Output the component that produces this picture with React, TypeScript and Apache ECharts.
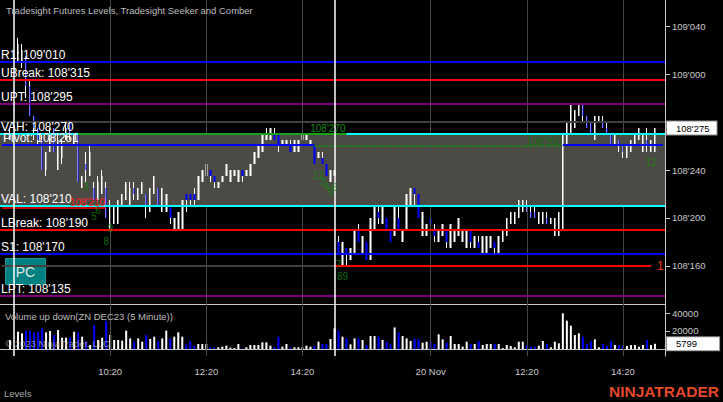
import React, { useEffect, useRef } from 'react';
import * as echarts from 'echarts';

const FONT = '"Liberation Sans", Arial, sans-serif';
const BASE = 108; // prices below are stored in 32nds above 108 (e.g. 27.5 = 108'275)

// ---- 5-minute bars, one entry per time slot on the axis ----
const opens: (number | null)[] = [
  null, null, 26.5, null, 33, 33, 33.5, 31, 28.5, 27.5,
  26.5, 24, 25.5, 27.5, 24, 25, 26.5, 28, 26, 27,
  22.5, 24.5, 23.5, 22.5, 21.5, 22, 22.5, 19.5, 19.5, 19.5,
  21, 21.5, 21, 22.5, 21.5, 22, 22, 20.5, 22, 22.5,
  20.5, 20.5, 21, 19, 19, 19, 22, 22, 22, 21.5,
  23, 23.5, 24, 23.5, 22.5, 23, 23.5, 23, 23.5, 23,
  24, 23.5, 23.5, 24.5, 25, 25.5, 26.5, 26.5, 27, 27,
  26, 26, 26, 25.5, 25.5, 26.5, 26.5, 26, 26, 25,
  25, 24.5, 23, 23.5, 18, 16, 17.5, 16.5, 17, 19,
  17, 18, 16.5, 19, 20.5, 19.5, 20, 19, 18.5, 20,
  18, 19, 21, 22.5, 22, 18.5, 18.5, 20, 19, 18,
  18.5, 19, 17.5, 18, 18.5, 18, 17.5, 19, 17.5, 18,
  17, 17, 17.5, 18, 17, 18, 18.5, 19.5, 19.5, 20,
  20.5, 21, 20.5, 20.5, 19.5, 19.5, 20, 19.5, 18.5, 18.5,
  19, 26, 27, 27.5, 28.5, 29.5, 28.5, 28, 26.5, 28,
  28, 27.5, 27, 26, 26.5, 26, 25, 25.5, 26, 26.5,
  25.5, 26.5, 25.5, 25.5,
];
const highs: (number | null)[] = [
  null, null, 27.5, null, 35, 34.5, 33.5, 31.5, 28.5, 27.5,
  27, 25.5, 27.5, 27.5, 27, 26.5, 28, 28, 27, 27,
  23.5, 25.5, 26, 23, 23.5, 24, 23, 21.5, 21, 21.5,
  22, 23, 23, 23, 22.5, 23, 22, 22.5, 23.5, 22.5,
  22.5, 22, 21, 20, 20.5, 21.5, 22, 22, 22.5, 23.5,
  24, 24.5, 24, 23.5, 23, 23.5, 24.5, 24, 24, 24,
  24, 24, 24.5, 25.5, 26, 27, 27.5, 27.5, 27.5, 27,
  26.5, 26.5, 26.5, 26.5, 26.5, 27, 27, 26.5, 26, 25.5,
  25.5, 24.5, 24, 24, 18.5, 18, 17.5, 17.5, 19, 19.5,
  18.5, 18, 20, 21, 21, 21, 20, 19, 21, 21,
  19, 22, 22.5, 22.5, 22, 20.5, 19.5, 20, 19.5, 19,
  19.5, 19, 19.5, 19, 20, 19, 19, 19, 18.5, 18.5,
  18.5, 18.5, 18.5, 18, 18.5, 19, 20, 20.5, 20.5, 21.5,
  21.5, 21.5, 21, 21, 20.5, 20.5, 20.5, 20, 20, 20.5,
  27, 28, 29.5, 29, 29.5, 29.5, 28.5, 28, 28.5, 28.5,
  28.5, 28, 27, 27, 26.5, 26, 26, 26.5, 27, 27.5,
  27, 27.5, 26.5, 27.5,
];
const lows: (number | null)[] = [
  null, null, 26.5, null, 33, 32.5, 30, 28.5, 26.5, 26,
  24, 23.5, 25.5, 25.5, 24, 24.5, 26.5, 26.5, 26, 23,
  22.5, 23, 23.5, 21.5, 21.5, 22, 20, 19, 19.5, 19.5,
  21, 21.5, 21, 21.5, 21.5, 22, 20, 20.5, 22, 21,
  20.5, 20.5, 19.5, 19, 19, 19, 20.5, 21, 21, 21.5,
  23, 23.5, 23, 22.5, 22.5, 23, 23.5, 23, 23.5, 23,
  23, 23.5, 23.5, 24.5, 25, 25.5, 26.5, 26.5, 26.5, 25.5,
  26, 26, 25.5, 25.5, 25.5, 26.5, 26.5, 26, 24.5, 25,
  24.5, 23.5, 23, 23.5, 17, 16, 16, 16.5, 17, 18,
  17, 16.5, 16.5, 19, 19.5, 19.5, 19, 18, 18.5, 19,
  18, 19, 21, 21, 20, 18.5, 18.5, 19, 18, 18,
  18.5, 17.5, 17.5, 18, 18.5, 18, 17.5, 17.5, 17.5, 17.5,
  17, 17, 17.5, 17, 17, 18, 18.5, 19.5, 19.5, 20,
  20.5, 20.5, 20, 20, 19.5, 19.5, 19.5, 19.5, 18.5, 18.5,
  19, 26, 27, 27.5, 28.5, 28, 27.5, 27, 26.5, 28,
  27.5, 27, 26, 26, 25.5, 25, 25, 25.5, 26, 26.5,
  25.5, 25.5, 25.5, 25.5,
];
const closes: (number | null)[] = [
  null, null, 27, null, 34.5, 34, 31, 28.5, 27.5, 26.5,
  24, 25.5, 27, 25.5, 26.5, 26, 27.5, 27, 27, 23,
  23.5, 24, 25.5, 21.5, 23, 23.5, 20, 21, 21, 21.5,
  22, 23, 22.5, 22, 22.5, 23, 21, 22.5, 23.5, 21,
  22.5, 22, 20, 20, 20.5, 21.5, 21.5, 21.5, 21.5, 23.5,
  24, 24.5, 23.5, 23, 23, 23.5, 24.5, 24, 24, 24,
  23.5, 24, 24.5, 25.5, 26, 27, 27, 27.5, 26.5, 26,
  26.5, 26.5, 25.5, 26.5, 26.5, 27, 27, 26.5, 24.5, 25.5,
  24.5, 23.5, 24, 24, 17, 18, 17, 17.5, 19, 18,
  18.5, 16.5, 20, 21, 20, 21, 19, 18, 21, 19,
  19, 22, 22.5, 22, 20, 20.5, 19.5, 19.5, 18.5, 19,
  19.5, 18, 19.5, 19, 20, 19, 19, 18, 18.5, 17.5,
  18.5, 18.5, 18.5, 17.5, 18.5, 19, 20, 20.5, 20.5, 21.5,
  21.5, 20.5, 20, 20, 20.5, 20.5, 19.5, 20, 20, 20.5,
  27, 28, 29.5, 29, 29.5, 28.5, 27.5, 27, 28.5, 28.5,
  27.5, 27, 26, 27, 26, 25.5, 26, 26.5, 27, 27.5,
  27, 26, 26.5, 27.5,
];
const volumes: (number | null)[] = [
  null, null, 10000, null, 19200, 17400, 20400, 20400, 18100, 19200,
  22900, 18500, 20000, 15500, 21100, 12600, 12600, 12600, 19200, 18500,
  13700, 8100, 4400, 26600, 10000, 12600, 31000, 15500, 10000, 10000,
  9300, 20400, 11800, 8100, 11800, 8100, 15500, 11100, 13700, 8900,
  11800, 20400, 11800, 13700, 18500, 13700, 5200, 8900, 3300, 5600,
  5600, 5600, 1900, 1500, 1900, 2600, 3700, 1500, 1000, 5600,
  700, 1900, 4400, 4400, 4400, 7400, 7400, 3700, 1900, 13700,
  2600, 5600, 1500, 1900, 1900, 1900, 3700, 2600, 3300, 8100,
  5600, 5600, 11100, 22900, 20400, 13700, 11800, 5200, 11800, 11800,
  10000, 4400, 14400, 14400, 13700, 10000, 8100, 5200, 24000, 18500,
  14400, 11800, 8900, 11100, 11100, 7000, 8100, 8100, 5600, 16300,
  10700, 7000, 14400, 5600, 5600, 2600, 8100, 5600, 5600, 8900,
  4400, 5600, 5600, 5600, 5600, 1000, 4400, 3300, 1900, 8100,
  8100, 4400, 2600, 2600, 3700, 8900, 5600, 1900, 8100, 6300,
  39600, 31500, 25900, 15500, 17400, 13700, 5600, 8900, 10700, 1900,
  5600, 3300, 8900, 4400, 4400, 3300, 3300, 4400, 4400, 2600,
  4400, 10000, 4400, 5799,
];

// ---- time axis ----
const N_SLOTS = 166;
const tickSlots = [27, 51, 75, 107, 131, 155];
const tickLabels = ['10:20', '12:20', '14:20', '20 Nov', '12:20', '14:20'];
const sessionBreakSlots = [3, 83];

// ---- levels (32nds above 108) ----
const levelNames = ['R1', 'UBreak', 'UPT', 'VAH', 'Pivot', 'VAL', 'LBreak', 'S1', 'LPT'];
const levelValues = [33, 31.5, 29.5, 27, 26.1, 21, 19, 17, 13.5];
const levelColors = ['#0000ff', '#ff0000', '#800080', '#00ffff', '#0000ff', '#00ffff', '#ff0000', '#0000ff', '#800080'];
const valueArea = [27, 21];
const priorLevels = [28, 16];

// ---- Seeker / Comber counts ----
const countSlots = [21, 23, 24, 27, 26, 79, 80, 81, 82, 83, 84, 85, 162];
const countValues = [22.6, 20.1, 20.6, 19.1, 18, 23.5, 23, 22.6, 22.1, 22.5, 16.1, 15.1, 24.6];
const countTexts = ['3', '5', '6', '9', '8', '12', '3', '4', '5', '6', '7', '89', '12'];

const priceTicks = [16, 20, 24, 28, 32, 36];
const priceTickLabels = [16, 20, 24, 32, 36]; // 108'280 sits under the last-price marker
const volumeTicks = [20000, 40000];

const fmt32 = (v: number) => {
  const whole = Math.floor(v / 32);
  const frac = v - whole * 32;
  return `${BASE + whole}'${String(Math.round(frac * 10)).padStart(3, '0')}`;
};

const slotLabel = (k: number) => {
  const day = k <= 3 ? '16 Nov' : k <= 83 ? '17 Nov' : '20 Nov';
  const mins = k <= 3 ? 900 - (3 - k) * 5 : k <= 83 ? 500 + (k - 3) * 5 : 500 + (k - 83) * 5;
  const hh = String(Math.floor(mins / 60)).padStart(2, '0');
  const mm = String(mins % 60).padStart(2, '0');
  return `${day} ${hh}:${mm}`;
};

export default function App() {
  const ref = useRef<HTMLDivElement>(null);
  useEffect(() => {
    const chart = echarts.init(ref.current!, null, { renderer: 'svg' });
    const categories = Array.from({ length: N_SLOTS }, (_, k) => slotLabel(k));
    const at = (arr: (number | null)[], k: number) => (k < arr.length ? arr[k] : null);
    const wickData = categories.map((_, k) => {
      const o = at(opens, k);
      if (o == null) return ['-', '-', '-', '-'];
      return [o, at(closes, k), at(lows, k), at(highs, k)];
    });
    const bodyData = categories.map((_, k) => {
      const o = at(opens, k);
      const c = at(closes, k);
      if (o == null || c == null) return ['-', '-', '-', '-'];
      return [o, c, Math.min(o, c), Math.max(o, c)];
    });
    const volData = categories.map((_, k) => {
      const v = at(volumes, k);
      if (v == null) return '-';
      const up = (at(closes, k) as number) >= (at(opens, k) as number);
      return { value: v, itemStyle: { color: up ? '#ffffff' : '#0000ff' } };
    });
    const last = opens.length - 1;
    const isTick = (i: number) => tickSlots.includes(i);

    const lbl = (text: string, extra: any = {}) => ({
      show: true, formatter: text, fontFamily: FONT, ...extra,
    });
    const noLabel = { show: false };
    const hiddenLine = { color: 'rgba(0,0,0,0)', width: 0 };

    const levelLines: any[] = [];
    levelNames.forEach((name, i) => {
      const v = levelValues[i];
      const label = lbl(`${name}: ${fmt32(v)}`, { position: 'insideStartTop', color: '#ffffff', fontSize: 12, distance: [1, 1] });
      const lineStyle = { color: levelColors[i], width: 2, type: 'solid' };
      if (name === 'Pivot') {
        levelLines.push([{ coord: [0, v], label, lineStyle }, { coord: [78, v], label, lineStyle }]);
        levelLines.push([{ coord: [140, v], label: noLabel, lineStyle }, { coord: [N_SLOTS - 1, v], label: noLabel, lineStyle }]);
      } else {
        levelLines.push({ yAxis: v, label, lineStyle });
      }
    });

    const gridLinesPrice = tickSlots.map((k) => ({ xAxis: k, label: noLabel, lineStyle: { color: '#484848', width: 1, type: 'solid' } }));
    const breakLines = sessionBreakSlots.map((k) => ({ xAxis: k, label: noLabel, lineStyle: { color: '#ffffff', width: 1.5, type: 'solid' } }));
    const gray = { color: '#404040', width: 2, type: 'solid' };
    const oneLabel = lbl('1', { position: 'end', color: '#e8401c', fontSize: 12, distance: 6 });

    const priceMarks: any[] = [
      ...gridLinesPrice,
      { yAxis: priorLevels[0], label: noLabel, lineStyle: gray },
      [{ coord: [0, priorLevels[1]], label: noLabel, lineStyle: gray }, { coord: [83, priorLevels[1]], label: noLabel, lineStyle: gray }],
      [
        { coord: [83, priorLevels[1]], lineStyle: { color: '#ff0000', width: 2, type: 'solid' }, label: oneLabel },
        { coord: [162, priorLevels[1]], lineStyle: { color: '#ff0000', width: 2, type: 'solid' }, label: oneLabel },
      ],
      ...levelLines,
      [
        { coord: [0, 20.85], lineStyle: { color: '#ff0000', width: 1.5, type: 'solid' }, label: lbl(fmt32(21), { position: 'insideEndTop', color: '#ff2020', fontSize: 10, distance: [1, 0] }) },
        { coord: [26, 20.85], lineStyle: { color: '#ff0000', width: 1.5, type: 'solid' }, label: lbl(fmt32(21), { position: 'insideEndTop', color: '#ff2020', fontSize: 10, distance: [1, 0] }) },
      ],
      [
        { coord: [19, valueArea[0]], lineStyle: { color: '#1aa01a', width: 2, type: 'solid' }, label: lbl(fmt32(27), { position: 'insideEndTop', color: '#128a12', fontSize: 10, distance: [1, 1] }) },
        { coord: [86, valueArea[0]], lineStyle: { color: '#1aa01a', width: 2, type: 'solid' }, label: lbl(fmt32(27), { position: 'insideEndTop', color: '#128a12', fontSize: 10, distance: [1, 1] }) },
      ],
      [
        { coord: [78, 26], lineStyle: { color: '#138a13', width: 2, type: 'dotted' }, label: lbl(fmt32(26), { position: 'insideEndTop', color: '#0d6e0d', fontSize: 10, distance: [1, 0] }) },
        { coord: [140, 26], lineStyle: { color: '#138a13', width: 2, type: 'dotted' }, label: lbl(fmt32(26), { position: 'insideEndTop', color: '#0d6e0d', fontSize: 10, distance: [1, 0] }) },
      ],
      ...breakLines,
      {
        yAxis: closes[last], lineStyle: hiddenLine,
        label: lbl(fmt32(closes[last] as number), { position: 'end', color: '#000000', backgroundColor: '#ffffff', borderColor: '#8a8a8a', borderWidth: 1, padding: [2, 7, 1, 9], fontSize: 9.5, distance: 2 }),
      },
    ];

    const volumeMarks: any[] = [
      ...tickSlots.map((k) => ({ xAxis: k, label: noLabel, lineStyle: { color: '#484848', width: 1, type: 'solid' } })),
      ...sessionBreakSlots.map((k) => ({ xAxis: k, label: noLabel, lineStyle: { color: '#ffffff', width: 1.5, type: 'solid' } })),
    ];

    const emptyLine = categories.map(() => '-');
    const axisGray = '#c8c8c8';

    chart.setOption({
      animation: false,
      backgroundColor: '#000000',
      textStyle: { fontFamily: FONT },
      grid: [
        { left: 0, top: 0, width: 665, height: 304 },
        { left: 0, top: 304, width: 665, height: 52 },
      ],
      xAxis: [
        {
          gridIndex: 0, type: 'category', data: categories, boundaryGap: true,
          axisLine: { show: true, lineStyle: { color: axisGray } },
          axisTick: { show: false }, axisLabel: { show: false }, splitLine: { show: false },
        },
        {
          gridIndex: 1, type: 'category', data: categories, boundaryGap: true,
          axisLine: { show: true, lineStyle: { color: axisGray } },
          axisTick: { show: true, alignWithLabel: true, interval: (i: number) => isTick(i), length: 4, lineStyle: { color: axisGray } },
          axisLabel: {
            interval: (i: number) => isTick(i),
            formatter: (_v: string, i: number) => tickLabels[tickSlots.indexOf(i)] ?? '',
            color: axisGray, fontSize: 9.5, margin: 10, fontFamily: FONT,
          },
          splitLine: { show: false },
        },
      ],
      yAxis: [
        {
          gridIndex: 0, type: 'value', position: 'right', min: 12.8333, max: 38.1667, scale: true,
          axisLine: { show: true, lineStyle: { color: axisGray } },
          axisTick: { show: true, customValues: priceTicks, length: 5, lineStyle: { color: axisGray } },
          axisLabel: { customValues: priceTickLabels, formatter: (v: number) => fmt32(v), color: axisGray, fontSize: 9.5, margin: 7, fontFamily: FONT },
          splitLine: { show: false },
        },
        {
          gridIndex: 1, type: 'value', position: 'right', min: -7778, max: 50000,
          axisLine: { show: true, lineStyle: { color: axisGray } },
          axisTick: { show: true, customValues: volumeTicks, length: 5, lineStyle: { color: axisGray } },
          axisLabel: { customValues: volumeTicks, formatter: (v: number) => String(v), color: axisGray, fontSize: 9.5, margin: 7, fontFamily: FONT },
          splitLine: { show: false },
        },
      ],
      series: [
        {
          name: 'Value area', type: 'line', xAxisIndex: 0, yAxisIndex: 0, data: emptyLine, z: 1, silent: true,
          showSymbol: false,
          markArea: {
            silent: true,
            itemStyle: { color: 'rgba(106,102,94,0.72)' },
            data: [[{ yAxis: valueArea[0] }, { yAxis: valueArea[1] }]],
          },
        },
        {
          name: 'Levels', type: 'line', xAxisIndex: 0, yAxisIndex: 0, data: emptyLine, z: 2, silent: true,
          showSymbol: false,
          markLine: { silent: true, symbol: ['none', 'none'], data: priceMarks },
        },
        {
          name: 'Wicks', type: 'candlestick', xAxisIndex: 0, yAxisIndex: 0, data: wickData, barWidth: 1, z: 3, silent: true,
          itemStyle: { color: '#ffffff', color0: '#ffffff', borderColor: '#ffffff', borderColor0: '#ffffff', borderWidth: 1 },
        },
        {
          name: 'Bodies', type: 'candlestick', xAxisIndex: 0, yAxisIndex: 0, data: bodyData, barWidth: 2, z: 4, silent: true,
          itemStyle: { color: '#ffffff', color0: '#0000ff', borderColor: '#ffffff', borderColor0: '#0000ff', borderWidth: 0 },
        },
        {
          name: 'Counts', type: 'scatter', xAxisIndex: 0, yAxisIndex: 0, z: 6, silent: true,
          data: countSlots.map((k, i) => [k, countValues[i]]),
          symbolSize: 1, itemStyle: { color: 'rgba(0,0,0,0)' },
          label: { show: true, position: 'inside', formatter: (p: any) => countTexts[p.dataIndex], color: '#0c8a0c', fontSize: 10, fontFamily: FONT },
        },
        {
          name: 'Volume grid', type: 'line', xAxisIndex: 1, yAxisIndex: 1, data: emptyLine, z: 1, silent: true,
          showSymbol: false,
          markLine: { silent: true, symbol: ['none', 'none'], data: volumeMarks },
        },
        {
          name: 'Volume', type: 'bar', xAxisIndex: 1, yAxisIndex: 1, data: volData, barWidth: 2, z: 3, silent: true,
          markLine: {
            silent: true, symbol: ['none', 'none'],
            data: [{
              yAxis: volumes[last], lineStyle: hiddenLine,
              label: lbl(String(volumes[last]), { position: 'end', color: '#000000', backgroundColor: '#ffffff', borderColor: '#8a8a8a', borderWidth: 1, padding: [2, 22, 1, 9], fontSize: 9.5, distance: 2 }),
            }],
          },
        },
      ],
      graphic: [
        { type: 'text', left: 6, top: 5, z: 100, silent: true, style: { text: 'Tradesight Futures Levels, Tradesight Seeker and Comber', fill: '#bdbdbd', font: `9.5px ${FONT}` } },
        { type: 'text', left: 5, top: 311, z: 100, silent: true, style: { text: 'Volume up down(ZN DEC23 (5 Minute))', fill: '#bdbdbd', font: `9.5px ${FONT}` } },
        { type: 'text', left: 5, top: 338, z: 100, silent: true, style: { text: '© 2023 NinjaTrader, LLC', fill: 'rgba(190,190,190,0.75)', font: `9.5px ${FONT}` } },
        { type: 'text', left: 4, top: 388, z: 100, silent: true, style: { text: 'Levels', fill: '#a8a8a8', font: `9.5px ${FONT}` } },
        { type: 'text', left: 609, top: 383, z: 100, silent: true, style: { text: 'NINJATRADER', fill: '#e5482a', font: `bold 15.5px ${FONT}` } },
        {
          type: 'group', left: 5, top: 258, z: 100, silent: true,
          children: [
            { type: 'rect', shape: { x: 0, y: 0, width: 40, height: 26 }, style: { fill: '#008080', stroke: '#1c9a9a', lineWidth: 1 } },
            { type: 'text', style: { text: 'PC', x: 20, y: 13, align: 'center', verticalAlign: 'middle', fill: '#e6e6e6', font: `14px ${FONT}` } },
          ],
        },
      ],
    });
    return () => chart.dispose();
  }, []);
  return <div ref={ref} style={{ position: 'fixed', left: 0, top: 0, width: 723, height: 402, background: '#000' }} />;
}
